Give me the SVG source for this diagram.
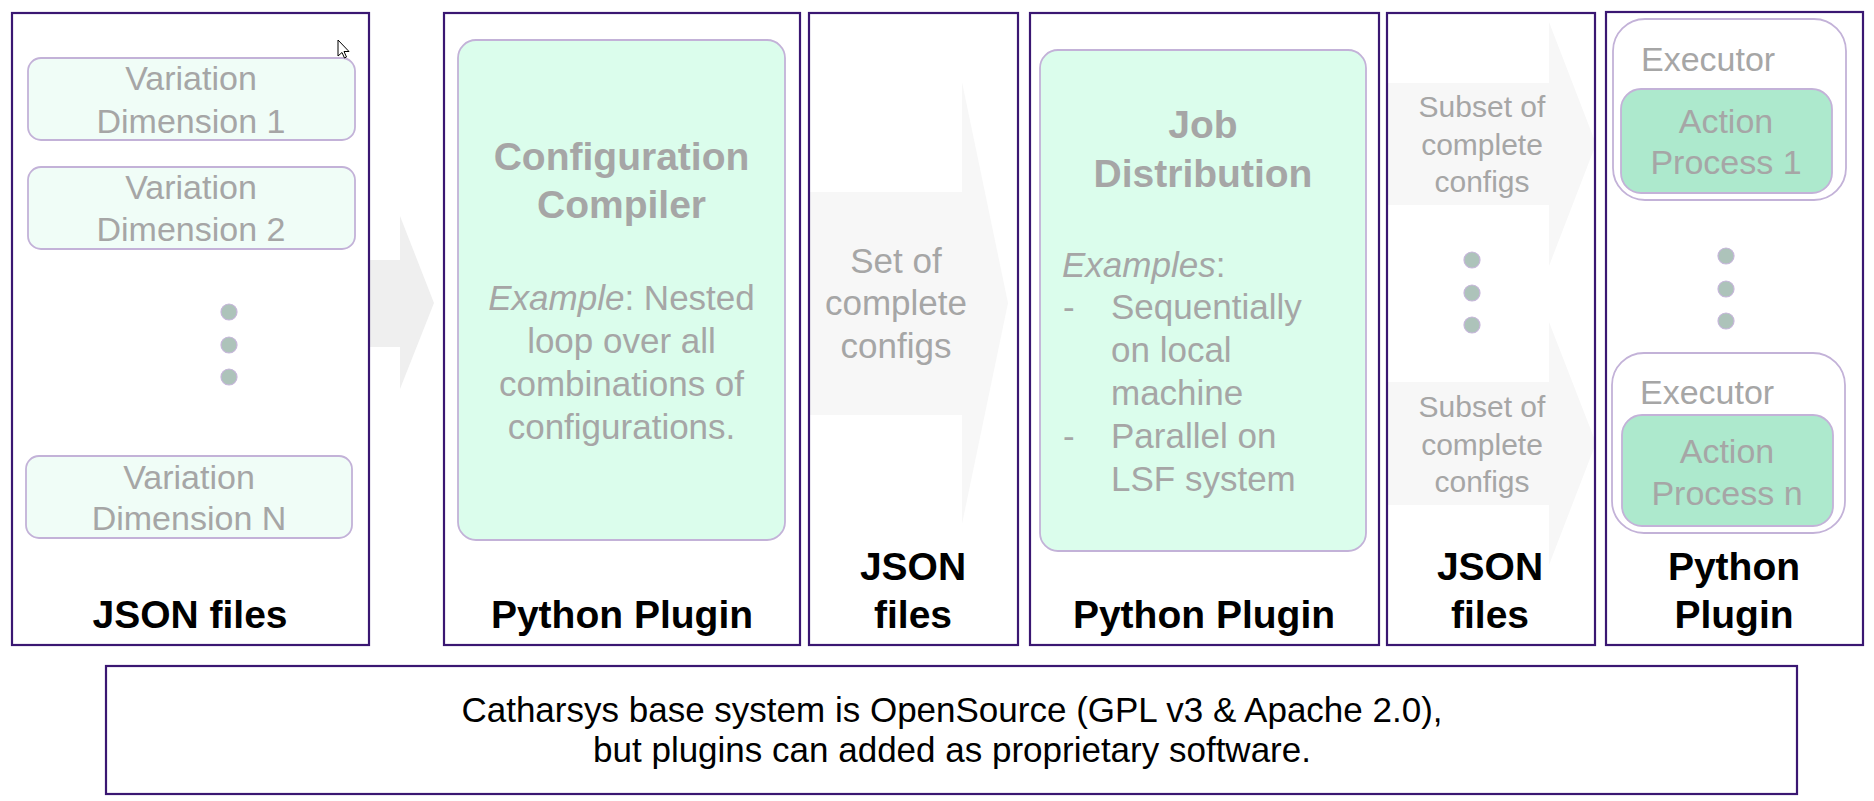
<svg xmlns="http://www.w3.org/2000/svg" width="1874" height="801" viewBox="0 0 1874 801">
<style>
.panel{fill:none;stroke:#3a1772;stroke-width:2.2}
.box{stroke:#c3b2d8;stroke-width:1.8}
.light{fill:#f0fdf7}
.mint{fill:#dbfdec}
.act{fill:#ade9cd}
.exec{fill:#ffffff}
.g{font-family:"Liberation Sans",Arial,sans-serif;fill:#a6a6a6;text-anchor:middle}
.gs{font-family:"Liberation Sans",Arial,sans-serif;fill:#a6a6a6;text-anchor:start}
.gb{font-family:"Liberation Sans",Arial,sans-serif;fill:#a6a6a6;font-weight:bold;text-anchor:middle;font-size:39px}
.lbl{font-family:"Liberation Sans",Arial,sans-serif;fill:#000;font-weight:bold;font-size:39px;text-anchor:middle}
.foot{font-family:"Liberation Sans",Arial,sans-serif;fill:#000;font-size:35px;text-anchor:middle}
.dot{fill:#adc3ba;stroke:#c6b6da;stroke-width:1.2}
</style>
<rect width="1874" height="801" fill="#ffffff"/>
<g id="connectors">
<polygon fill="#efefef" points="369,260 400,260 400,216 434,303 400,389 400,347 369,347"/>
<polygon fill="#f7f7f7" points="810,192 962,192 962,82 1008,303 962,524 962,415 810,415"/>
<polygon fill="#f7f7f7" points="1388,83 1549,83 1549,22 1596,144 1549,266 1549,205 1388,205"/>
<polygon fill="#f7f7f7" points="1388,382 1549,382 1549,322 1596,443 1549,565 1549,505 1388,505"/>
</g>
<g id="panel-json1">
<rect class="panel" x="12" y="13" width="357" height="632"/>
<g id="vd1"><rect class="box light" x="28" y="58" width="327" height="82" rx="13"/>
<text class="g" font-size="34" x="191" y="90">Variation</text>
<text class="g" font-size="34" x="191" y="133">Dimension 1</text></g>
<g id="vd2"><rect class="box light" x="28" y="167" width="327" height="82" rx="13"/>
<text class="g" font-size="34" x="191" y="199">Variation</text>
<text class="g" font-size="34" x="191" y="241">Dimension 2</text></g>
<circle class="dot" cx="229" cy="312" r="8"/>
<circle class="dot" cx="229" cy="345" r="8"/>
<circle class="dot" cx="229" cy="377" r="8"/>
<g id="vdn"><rect class="box light" x="26" y="456" width="326" height="82" rx="13"/>
<text class="g" font-size="34" x="189" y="489">Variation</text>
<text class="g" font-size="34" x="189" y="530">Dimension N</text></g>
<text class="lbl" x="190" y="628">JSON files</text>
</g>
<g id="panel-plugin1">
<rect class="panel" x="444" y="13" width="356" height="632"/>
<g id="config-compiler"><rect class="box mint" x="458" y="40" width="327" height="500" rx="18"/>
<text class="gb" x="621.5" y="170">Configuration</text>
<text class="gb" x="621.5" y="218">Compiler</text>
<text class="g" font-size="35" x="621.5" y="310"><tspan font-style="italic">Example</tspan>: Nested</text>
<text class="g" font-size="35" x="621.5" y="353">loop over all</text>
<text class="g" font-size="35" x="621.5" y="396">combinations of</text>
<text class="g" font-size="35" x="621.5" y="439">configurations.</text></g>
<text class="lbl" x="622" y="628">Python Plugin</text>
</g>
<g id="panel-json2">
<rect class="panel" x="809" y="13" width="209" height="632"/>
<text class="g" font-size="35" x="896" y="273">Set of</text>
<text class="g" font-size="35" x="896" y="315">complete</text>
<text class="g" font-size="35" x="896" y="358">configs</text>
<text class="lbl" x="913" y="580">JSON</text>
<text class="lbl" x="913" y="628">files</text>
</g>
<g id="panel-plugin2">
<rect class="panel" x="1030" y="13" width="349" height="632"/>
<g id="job-distribution"><rect class="box mint" x="1040" y="50" width="326" height="501" rx="18"/>
<text class="gb" x="1203" y="138">Job</text>
<text class="gb" x="1203" y="187">Distribution</text>
<text class="gs" font-size="35" x="1062" y="277"><tspan font-style="italic">Examples</tspan>:</text>
<text class="gs" font-size="35" x="1063" y="319">-</text>
<text class="gs" font-size="35" x="1111" y="319">Sequentially</text>
<text class="gs" font-size="35" x="1111" y="362">on local</text>
<text class="gs" font-size="35" x="1111" y="405">machine</text>
<text class="gs" font-size="35" x="1063" y="448">-</text>
<text class="gs" font-size="35" x="1111" y="448">Parallel on</text>
<text class="gs" font-size="35" x="1111" y="491">LSF system</text></g>
<text class="lbl" x="1204" y="628">Python Plugin</text>
</g>
<g id="panel-json3">
<rect class="panel" x="1387" y="13" width="208" height="632"/>
<text class="g" font-size="30" x="1482" y="117">Subset of</text>
<text class="g" font-size="30" x="1482" y="155">complete</text>
<text class="g" font-size="30" x="1482" y="192">configs</text>
<circle class="dot" cx="1472" cy="260" r="8"/>
<circle class="dot" cx="1472" cy="293" r="8"/>
<circle class="dot" cx="1472" cy="325" r="8"/>
<text class="g" font-size="30" x="1482" y="417">Subset of</text>
<text class="g" font-size="30" x="1482" y="455">complete</text>
<text class="g" font-size="30" x="1482" y="492">configs</text>
<text class="lbl" x="1490" y="580">JSON</text>
<text class="lbl" x="1490" y="628">files</text>
</g>
<g id="panel-plugin3">
<rect class="panel" x="1606" y="12" width="257" height="633"/>
<g id="executor1"><rect class="box exec" x="1613" y="19" width="233" height="181" rx="32"/>
<text class="gs" font-size="34" x="1641" y="71">Executor</text>
<rect class="box act" x="1621" y="89" width="211" height="104" rx="20"/>
<text class="g" font-size="34" x="1726" y="133">Action</text>
<text class="g" font-size="34" x="1726" y="174">Process 1</text></g>
<circle class="dot" cx="1726" cy="256" r="8"/>
<circle class="dot" cx="1726" cy="289" r="8"/>
<circle class="dot" cx="1726" cy="321" r="8"/>
<g id="executorn"><rect class="box exec" x="1612" y="353" width="233" height="180" rx="32"/>
<text class="gs" font-size="34" x="1640" y="404">Executor</text>
<rect class="box act" x="1622" y="415" width="211" height="111" rx="20"/>
<text class="g" font-size="34" x="1727" y="463">Action</text>
<text class="g" font-size="34" x="1727" y="505">Process n</text></g>
<text class="lbl" x="1734" y="580">Python</text>
<text class="lbl" x="1734" y="628">Plugin</text>
</g>
<g id="footer">
<rect class="panel" x="106" y="666" width="1691" height="128"/>
<text class="foot" x="952" y="722">Catharsys base system is OpenSource (GPL v3 &amp; Apache 2.0),</text>
<text class="foot" x="952" y="762">but plugins can added as proprietary software.</text>
</g>
<path d="M338,40 L338,56 L342,52.5 L344.5,58 L346.5,57 L344,51.5 L349,51.5 Z" fill="#ffffff" stroke="#000" stroke-width="1"/>
</svg>
